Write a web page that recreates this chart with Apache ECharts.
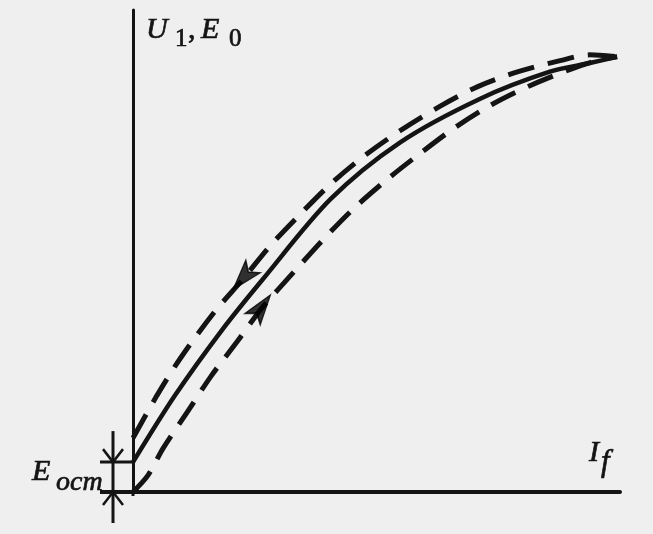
<!DOCTYPE html>
<html><head><meta charset="utf-8">
<script src="https://cdn.jsdelivr.net/npm/echarts@6/dist/echarts.min.js"></script>
<style>html,body{margin:0;padding:0;background:#efefef}#c{width:653px;height:534px}</style>
</head><body><div id="c"></div>
<script>
// Field current I_f (x) and EMF / voltage (y), both in % of the axis length
const mainCurve = [[0,6.2],[8.6,20.0],[18.5,33.9],[26.7,44.2],[40.5,60.7],[54.8,72.5],[71.3,81.6],[85.6,87.2],[93.8,89.0],[99.4,90.3]];
const downCurve = [[0,11.2],[4.9,20.0],[9.7,27.7],[16.6,37.2],[22.6,44.2],[28.1,51.0],[34.3,57.6],[40.7,64.0],[47.6,69.8],[55.2,75.2],[63.0,80.0],[70.8,84.1],[79.1,87.2],[87.7,89.5],[93.8,90.7],[99.4,90.3]];
const upCurve = [[0,0],[3.1,3.5],[6.2,9.1],[11.1,16.5],[16.0,24.0],[21.4,31.2],[26.5,38.2],[32.9,45.5],[38.8,52.1],[45.2,58.7],[52.0,64.7],[58.9,70.2],[66.1,75.6],[73.7,80.4],[81.5,84.3],[90.1,87.8],[95.9,89.7],[99.4,90.3]];
const eOst = 6.2;              // residual EMF level
const arrowDownAt = [22.6, 44.4];
const arrowUpAt = [26.4, 38.4];

const INK = '#141414';
const chart = echarts.init(document.getElementById('c'), null, {renderer: 'canvas'});

function lineSeries(data, width, type, smooth) {
  return {type: 'line', data: data, symbol: 'none', clip: false, smooth: smooth || false,
    lineStyle: {color: INK, width: width, type: type || 'solid'}, silent: true, z: 3};
}

function txt(id, text, x, y, size, italic) {
  return {type: 'text', id: id, x: x, y: y, silent: true, z: 10,
    style: {text: text, fill: INK,
      font: (italic ? 'italic ' : '') + size + 'px "Liberation Serif", "Times New Roman", serif',
      align: 'left', verticalAlign: 'middle', stroke: INK, lineWidth: 0.7}};
}

const ARROW = 'path://M10,0L20,30L10,23L0,30Z';

const option = {
  animation: false,
  backgroundColor: '#efefef',
  grid: {left: 133, right: 33, top: 10, bottom: 42},
  xAxis: {type: 'value', min: 0, max: 100,
    axisLine: {show: true, onZero: false, lineStyle: {color: INK, width: 4}},
    axisTick: {show: false}, axisLabel: {show: false}, splitLine: {show: false}},
  yAxis: {type: 'value', min: 0, max: 100,
    axisLine: {show: true, onZero: false, lineStyle: {color: INK, width: 3}},
    axisTick: {show: false}, axisLabel: {show: false}, splitLine: {show: false}},
  series: [
    lineSeries(mainCurve, 4.5, 'solid', 0.3),
    lineSeries(downCurve, 5, [27, 14], 0.3),
    lineSeries(upCurve, 5, [27, 14], 0.3),
    {type: 'scatter', clip: false, silent: true, z: 5, symbol: ARROW, symbolSize: [19, 30],
      itemStyle: {color: '#000', borderColor: '#000', borderWidth: 1.5},
      data: [{value: arrowDownAt, symbolRotate: 135}, {value: arrowUpAt, symbolRotate: -40}]}
  ],
  graphic: [
    txt('t1', 'U', 146, 30, 30, true),
    txt('t2', '1', 175, 39, 25, false),
    txt('t3', ',', 188, 30, 30, false),
    txt('t4', 'E', 201, 30, 30, true),
    txt('t5', '0', 229, 39, 25, false),
    txt('t6', 'I', 589, 453, 30, true),
    txt('t7', 'f', 601, 463, 31, true),
    txt('t8', 'E', 32, 472, 30, true),
    txt('t9', 'ост', 56, 483, 28, true)
  ]
};
chart.setOption(option);

// orient the direction arrows along their curves
function px(p) { return chart.convertToPixel({gridIndex: 0}, p); }
function tangentRot(curve, pt, reverse) {
  let i = 0;
  while (i < curve.length - 2 && curve[i + 1][0] < pt[0]) i++;
  const a = px(curve[i]), b = px(curve[i + 1]);
  let dx = b[0] - a[0], dy = b[1] - a[1];
  if (reverse) { dx = -dx; dy = -dy; }
  return Math.atan2(-dx, -dy) * 180 / Math.PI;
}

// residual-EMF dimension (E_ост) drawn from the data level
const o = px([0, 0]), e = px([0, eOst]);
const dimX = o[0] - 20, extL = o[0] - 33;
function seg(id, x1, y1, x2, y2, w) {
  return {type: 'line', id: id, silent: true, z: 4,
    shape: {x1: x1, y1: y1, x2: x2, y2: y2}, style: {stroke: INK, lineWidth: w, lineCap: 'butt'}};
}
function chevron(id, x, tipY, dir) {
  return {type: 'polyline', id: id, silent: true, z: 4,
    shape: {points: [[x - 10, tipY - dir * 13], [x, tipY], [x + 10, tipY - dir * 13]]},
    style: {stroke: INK, lineWidth: 2.5, fill: null}};
}
chart.setOption({
  series: [{}, {}, {},
    {data: [{value: arrowDownAt, symbolRotate: tangentRot(downCurve, arrowDownAt, true)},
            {value: arrowUpAt, symbolRotate: tangentRot(upCurve, arrowUpAt, false)}]}],
  graphic: [
    seg('d1', extL, o[1], o[0], o[1], 4),
    seg('d2', extL, e[1], o[0], e[1], 3),
    seg('d3', dimX, e[1] - 31, dimX, o[1] + 31, 3),
    chevron('d4', dimX, e[1], 1),
    chevron('d5', dimX, o[1], -1),
    seg('d6', o[0], o[1], o[0], o[1] + 4, 3)
  ]
});
</script>
</body></html>
